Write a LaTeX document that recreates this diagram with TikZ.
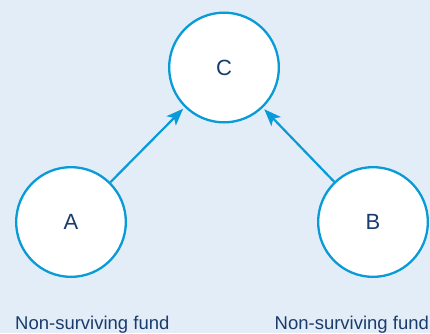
\documentclass[tikz,border=0pt]{standalone}
\usepackage{fontspec}
\setmainfont{Liberation Sans}
\usetikzlibrary{arrows.meta}
\definecolor{bgblue}{RGB}{227,237,248}
\definecolor{ringblue}{RGB}{8,155,215}
\definecolor{inkblue}{RGB}{26,60,108}
\begin{document}
\begin{tikzpicture}[x=1pt,y=1pt,
  fund/.style={circle, draw=ringblue, fill=white, line width=2.3pt,
    minimum size=109.7pt, inner sep=0pt, text=inkblue, font=\fontsize{22}{24}\selectfont},
  link/.style={draw=ringblue, line width=2.2pt,
    -{Stealth[length=17pt,width=13pt,inset=4pt]}, shorten >=2pt},
  caption/.style={text=inkblue, font=\fontsize{18.5}{20}\selectfont, inner sep=0pt, anchor=base west}]
  % background panel
  \fill[bgblue] (0,0) rectangle (430,333);
  \useasboundingbox (0,0) rectangle (430,333);
  % funds
  \node[fund] (C) at (224,265.5) {C};
  \node[fund] (A) at (71,111) {A};
  \node[fund] (B) at (373,111) {B};
  % mergers into C
  \draw[link] (A) -- (C);
  \draw[link] (B) -- (C);
  % captions
  \node[caption] (capA) at (15,4) {Non-surviving fund};
  \node[caption] (capB) at (274.5,4) {Non-surviving fund};
\end{tikzpicture}
\end{document}
